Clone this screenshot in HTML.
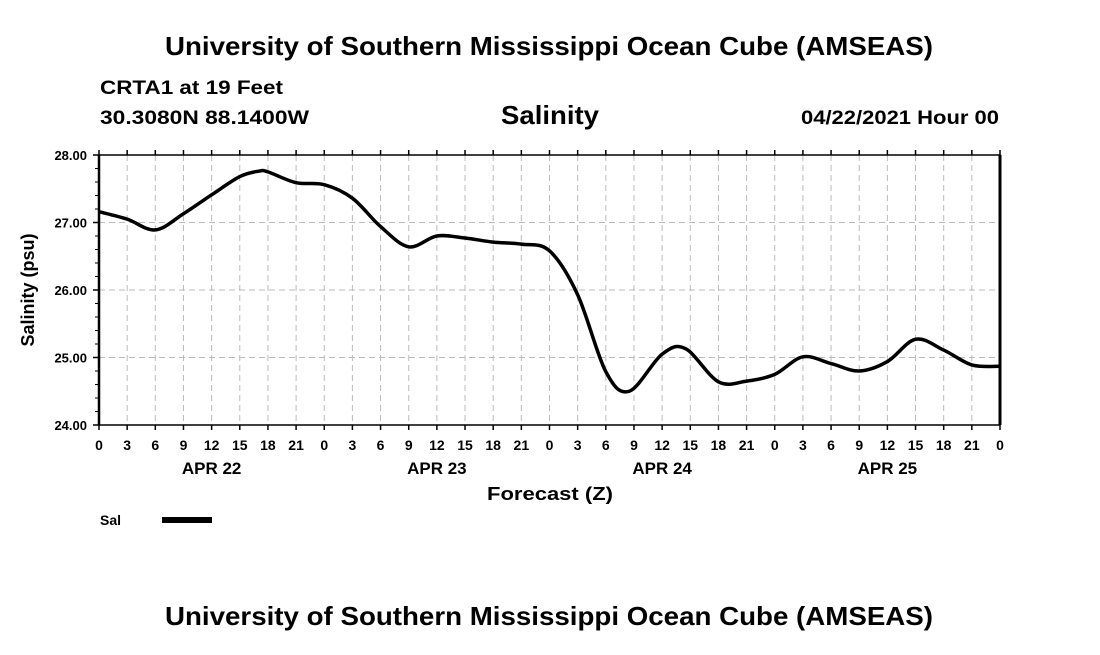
<!DOCTYPE html>
<html><head><meta charset="utf-8"><style>
body{margin:0;background:#fff;}
svg text{font-family:"Liberation Sans",Arial,sans-serif;font-weight:bold;fill:#000;}
</style></head><body>
<svg id="chart" width="1100" height="650" xmlns="http://www.w3.org/2000/svg">
<text x="165" y="55" font-size="26" textLength="768" lengthAdjust="spacingAndGlyphs">University of Southern Mississippi Ocean Cube (AMSEAS)</text>
<text x="100" y="94" font-size="19" textLength="183" lengthAdjust="spacingAndGlyphs">CRTA1 at 19 Feet</text>
<text x="100" y="124" font-size="19" textLength="209" lengthAdjust="spacingAndGlyphs">30.3080N  88.1400W</text>
<text x="501" y="124" font-size="26" textLength="98" lengthAdjust="spacingAndGlyphs">Salinity</text>
<text x="801" y="124" font-size="19" textLength="198" lengthAdjust="spacingAndGlyphs">04/22/2021 Hour 00</text>
<g id="grid"></g><g id="axes"></g><g id="series"></g>
<text transform="translate(34,290) rotate(-90)" font-size="18" text-anchor="middle">Salinity (psu)</text>
<text x="487" y="500" font-size="18" textLength="126" lengthAdjust="spacingAndGlyphs">Forecast (Z)</text>
<text x="100" y="525" font-size="14">Sal</text>
<line x1="162" y1="520" x2="212" y2="520" stroke="#000" stroke-width="6"/>
<text x="165" y="625" font-size="26" textLength="768" lengthAdjust="spacingAndGlyphs">University of Southern Mississippi Ocean Cube (AMSEAS)</text>
</svg>
<script>
const hours=[0,3,6,9,12,15,17,18,21,24,27,30,33,36,39,42,45,48,51,54,56.5,60,62.5,66,69,72,75,78,81,84,87,90,93,96];
const salinity=[27.16,27.05,26.89,27.13,27.41,27.68,27.76,27.75,27.59,27.56,27.36,26.94,26.64,26.80,26.77,26.71,26.68,26.58,25.93,24.79,24.50,25.05,25.13,24.64,24.65,24.75,25.01,24.91,24.80,24.94,25.27,25.11,24.89,24.87];
const yTicks=[24,25,26,27,28];
const yTickLabels=["24.00","25.00","26.00","27.00","28.00"];
const xTickHours=[0,3,6,9,12,15,18,21,24,27,30,33,36,39,42,45,48,51,54,57,60,63,66,69,72,75,78,81,84,87,90,93,96];
const dayLabels=["APR 22","APR 23","APR 24","APR 25"];
const dayLabelHours=[12,36,60,84];
const X0=99,X1=1000,Y0=425,Y1=155,HMAX=96,VMIN=24,VMAX=28;
const xs=h=>X0+(h/HMAX)*(X1-X0);
const ys=v=>Y0-(v-VMIN)/(VMAX-VMIN)*(Y0-Y1);
const NS="http://www.w3.org/2000/svg";
function mk(tag,attrs,parent){const e=document.createElementNS(NS,tag);for(const k in attrs)e.setAttribute(k,attrs[k]);parent.appendChild(e);return e;}
const grid=document.getElementById('grid'),axes=document.getElementById('axes'),series=document.getElementById('series');
xTickHours.forEach((h,i)=>{
  const x=xs(h);
  if(h>0&&h<HMAX){const g=mk('line',{x1:x,y1:Y1,x2:x,y2:Y0,stroke:'#bbb','stroke-width':1,'stroke-dasharray':'6,4'},grid);
  
  }
  const t=mk('line',{x1:x,y1:Y0,x2:x,y2:Y0+5,stroke:'#000','stroke-width':1.5},axes);
  
  
  const t2=mk('line',{x1:x,y1:Y1,x2:x,y2:Y1-5,stroke:'#000','stroke-width':1.5},axes);
  
  
  const l=mk('text',{x:x,y:450,'font-size':14,'text-anchor':'middle'},axes);
  l.textContent=String(h%24);
  
  
});
dayLabels.forEach((d,i)=>{
  const l=mk('text',{x:xs(dayLabelHours[i]),y:474,'font-size':17,'text-anchor':'middle'},axes);
  l.textContent=d;
  
  
});
yTicks.forEach((v,i)=>{
  const y=ys(v);
  if(v>VMIN&&v<VMAX){const g=mk('line',{x1:X0,y1:y,x2:X1,y2:y,stroke:'#bbb','stroke-width':1,'stroke-dasharray':'6,4'},grid);
  
  }
  const t=mk('line',{x1:X0-6,y1:y,x2:X0,y2:y,stroke:'#000','stroke-width':1.5},axes);
  
  
  const l=mk('text',{x:87,y:y+5,'font-size':13,'text-anchor':'end'},axes);
  l.textContent=yTickLabels[i];
  
  
  if(i<yTicks.length-1){for(let k=1;k<5;k++){const ym=ys(v+k*0.2);
    const m=mk('line',{x1:X0-4,y1:ym,x2:X0,y2:ym,stroke:'#000','stroke-width':1},axes);
    
    }}
});
const frame=mk('rect',{x:X0,y:Y1,width:X1-X0,height:Y0-Y1,fill:'none',stroke:'#000','stroke-width':1.5},axes);


const rb=mk('line',{x1:X1,y1:Y1,x2:X1,y2:Y0,stroke:'#000','stroke-width':3},axes);


const lb=mk('line',{x1:X0,y1:Y1,x2:X0,y2:Y0,stroke:'#000','stroke-width':2.5},axes);


const P=hours.map((h,i)=>[xs(h),ys(salinity[i])]);
let d='M'+P[0][0]+','+P[0][1];
for(let i=0;i<P.length-1;i++){
  const p0=P[Math.max(0,i-1)],p1=P[i],p2=P[i+1],p3=P[Math.min(P.length-1,i+2)];
  const c1=[p1[0]+(p2[0]-p0[0])/6,p1[1]+(p2[1]-p0[1])/6];
  const c2=[p2[0]-(p3[0]-p1[0])/6,p2[1]-(p3[1]-p1[1])/6];
  d+=' C'+c1[0]+','+c1[1]+' '+c2[0]+','+c2[1]+' '+p2[0]+','+p2[1];
}
const line=mk('path',{d:d,fill:'none',stroke:'#000','stroke-width':3.5,'stroke-linejoin':'round'},series);


</script>
</body></html>
